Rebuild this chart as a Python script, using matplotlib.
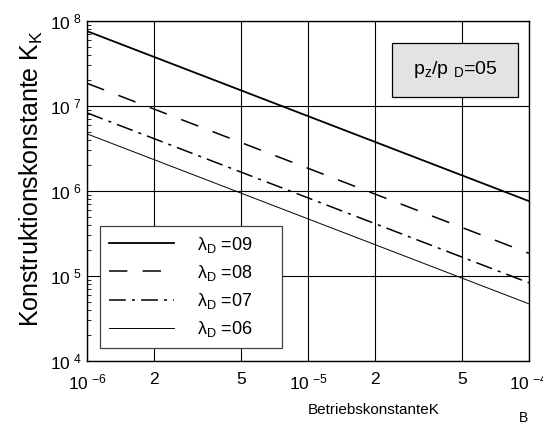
import numpy as np
import matplotlib
matplotlib.use("Agg")
from matplotlib import pyplot as plt
from matplotlib.ticker import FixedLocator, FixedFormatter, NullFormatter
from matplotlib.patches import Rectangle

# Betriebskonstante K_B (Endpunkte) und Konstruktionskonstante K_K je lambda_D
kb = [1e-6, 1e-4]
kk_09 = [7.6e7, 7.6e5]
kk_08 = [1.85e7, 1.85e5]
kk_07 = [8.3e6, 8.3e4]
kk_06 = [4.7e6, 4.7e4]
labels = ["λ$_\\mathregular{D}$ =09", "λ$_\\mathregular{D}$ =08",
          "λ$_\\mathregular{D}$ =07", "λ$_\\mathregular{D}$ =06"]

x_major = [1e-6, 1e-5, 1e-4]
x_major_lbl = ["10$\\;^{-6}$", "10$\\;^{-5}$", "10$\\;^{-4}$"]
x_minor = [2e-6, 5e-6, 2e-5, 5e-5]
x_minor_lbl = ["2", "5", "2", "5"]
y_major = [1e4, 1e5, 1e6, 1e7, 1e8]
y_major_lbl = ["10$\\;^{4}$", "10$\\;^{5}$", "10$\\;^{6}$", "10$\\;^{7}$", "10$\\;^{8}$"]

plt.rcParams['font.family'] = ['Liberation Sans', 'DejaVu Sans']
plt.rcParams['mathtext.fontset'] = 'custom'
plt.rcParams['mathtext.rm'] = 'Liberation Sans'
plt.rcParams['mathtext.it'] = 'Liberation Sans'
plt.rcParams['mathtext.bf'] = 'Liberation Sans'

fig = plt.figure(figsize=(5.43, 4.25), dpi=100)
ax = fig.add_axes([87/543, 64/425, 442/543, 340/425])

ax.plot(kb, kk_09, color='black', lw=1.3, label=labels[0])
ax.plot(kb, kk_08, color='black', lw=1.1, linestyle=(0, (12, 10)), label=labels[1])
ax.plot(kb, kk_07, color='black', lw=1.1, linestyle=(0, (11, 4, 2, 4)), label=labels[2])
ax.plot(kb, kk_06, color='black', lw=0.7, label=labels[3])

ax.set_xscale('log')
ax.set_yscale('log')
ax.set_xlim(1e-6, 1e-4)
ax.set_ylim(1e4, 1e8)

ax.xaxis.set_major_locator(FixedLocator(x_major))
ax.xaxis.set_major_formatter(FixedFormatter(x_major_lbl))
ax.xaxis.set_minor_locator(FixedLocator(x_minor))
ax.xaxis.set_minor_formatter(FixedFormatter(x_minor_lbl))
ax.yaxis.set_major_locator(FixedLocator(y_major))
ax.yaxis.set_major_formatter(FixedFormatter(y_major_lbl))
ax.yaxis.set_minor_locator(FixedLocator([m * 10.0**e for e in range(4, 8) for m in range(2, 10)]))
ax.yaxis.set_minor_formatter(NullFormatter())

ax.tick_params(axis='x', which='both', direction='in', length=0, pad=8, labelsize=12.5)
ax.tick_params(axis='y', which='major', direction='in', length=0, pad=4, labelsize=12.5)
ax.tick_params(axis='y', which='minor', direction='in', length=3, width=0.6)

ax.grid(True, which='major', color='black', lw=0.8)
ax.grid(True, which='minor', axis='x', color='black', lw=0.8)
for s in ax.spines.values():
    s.set_linewidth(1.0)

ax.set_ylabel("Konstruktionskonstante K$_\\mathregular{K}$", fontsize=18)
ax.yaxis.set_label_coords(-0.095, 0.538)
fig.text(374/543, 1 - 410/425, "BetriebskonstanteK", fontsize=11,
         ha='center', va='center')
fig.text(523/543, 1 - 418/425, "B", fontsize=10, ha='center', va='center')

ax.add_patch(Rectangle((0.690, 0.776), 0.285, 0.159, transform=ax.transAxes,
                       facecolor='#e3e3e3', edgecolor='black', lw=0.9, zorder=3))
ax.text(0.833, 0.856, "p$_\\mathregular{z}$/p $_\\mathregular{D}$=05", fontsize=14,
        transform=ax.transAxes, ha='center', va='center', zorder=4)

leg = ax.legend(loc='lower left', bbox_to_anchor=(0.029, 0.038, 0.412, 0.336),
                mode='expand', borderaxespad=0, fancybox=False, framealpha=1,
                edgecolor='#404040', fontsize=13, handlelength=3.6,
                handletextpad=1.3, labelspacing=0.45, borderpad=0.5)
leg.get_frame().set_linewidth(0.9)

fig.savefig("out.png", dpi=100)
